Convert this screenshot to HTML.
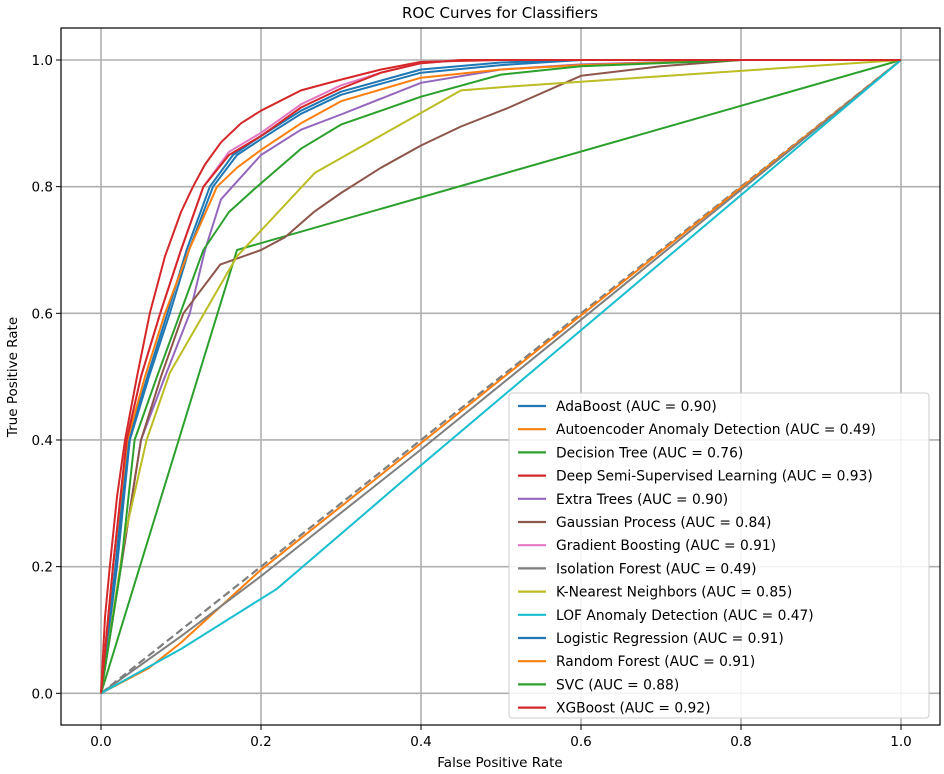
<!DOCTYPE html>
<html><head><meta charset="utf-8">
<style>
html,body{margin:0;padding:0;background:#fff;}
svg{display:block;font-family:"DejaVu Sans","Liberation Sans",sans-serif;}
</style></head>
<body>
<svg id="chart" width="944" height="774" viewBox="0 0 944 774"></svg>
<script>
const xTicks = [0, 0.2, 0.4, 0.6, 0.8, 1.0];
const yTicks = [0, 0.2, 0.4, 0.6, 0.8, 1.0];
const tickLabels = ["0.0","0.2","0.4","0.6","0.8","1.0"];
const seriesNames = ["AdaBoost (AUC = 0.90)","Autoencoder Anomaly Detection (AUC = 0.49)","Decision Tree (AUC = 0.76)","Deep Semi-Supervised Learning (AUC = 0.93)","Extra Trees (AUC = 0.90)","Gaussian Process (AUC = 0.84)","Gradient Boosting (AUC = 0.91)","Isolation Forest (AUC = 0.49)","K-Nearest Neighbors (AUC = 0.85)","LOF Anomaly Detection (AUC = 0.47)","Logistic Regression (AUC = 0.91)","Random Forest (AUC = 0.91)","SVC (AUC = 0.88)","XGBoost (AUC = 0.92)"];
const seriesColors = ["#1f77b4","#ff7f0e","#2ca02c","#d62728","#9467bd","#8c564b","#e377c2","#7f7f7f","#bcbd22","#17becf","#1f77b4","#ff7f0e","#2ca02c","#d62728"];
const adaBoost = [[0,0],[0.02,0.2],[0.036,0.4],[0.06,0.5],[0.086,0.6],[0.11,0.7],[0.14,0.8],[0.17,0.85],[0.2,0.875],[0.25,0.915],[0.3,0.945],[0.4,0.98],[0.5,0.992],[0.6,1],[1,1]];
const autoencoder = [[0,0],[0.06,0.04],[0.1,0.08],[0.2,0.195],[0.4,0.395],[1,1]];
const decisionTree = [[0,0],[0.17,0.70],[1,1]];
const deepSemi = [[0,0],[0.005,0.12],[0.011,0.2],[0.02,0.31],[0.03,0.4],[0.045,0.5],[0.061,0.6],[0.08,0.69],[0.1,0.76],[0.115,0.8],[0.13,0.835],[0.15,0.87],[0.175,0.9],[0.2,0.92],[0.25,0.952],[0.3,0.969],[0.35,0.985],[0.4,0.997],[0.5,1],[1,1]];
const extraTrees = [[0,0],[0.025,0.2],[0.05,0.4],[0.08,0.5],[0.111,0.6],[0.13,0.7],[0.15,0.78],[0.2,0.85],[0.25,0.89],[0.3,0.914],[0.4,0.964],[0.5,0.985],[0.6,0.993],[0.8,1],[1,1]];
const gaussian = [[0,0],[0.025,0.2],[0.05,0.4],[0.075,0.5],[0.103,0.6],[0.149,0.677],[0.2,0.70],[0.23,0.72],[0.267,0.761],[0.3,0.79],[0.35,0.83],[0.4,0.865],[0.45,0.895],[0.51,0.925],[0.6,0.975],[0.7,0.99],[0.8,1],[1,1]];
const gradient = [[0,0],[0.015,0.2],[0.032,0.4],[0.05,0.5],[0.074,0.6],[0.1,0.7],[0.128,0.8],[0.16,0.855],[0.2,0.885],[0.25,0.93],[0.3,0.96],[0.35,0.98],[0.4,0.995],[0.45,1],[1,1]];
const isolation = [[0,0],[0.1,0.09],[0.2,0.185],[0.4,0.385],[1,1]];
const knn = [[0,0],[0.03,0.25],[0.057,0.4],[0.086,0.506],[0.17,0.69],[0.2675,0.822],[0.45,0.952],[0.51,0.958],[1,1]];
const lof = [[0,0],[0.1,0.07],[0.22,0.165],[0.4,0.36],[1,1]];
const logistic = [[0,0],[0.018,0.2],[0.034,0.4],[0.058,0.5],[0.083,0.6],[0.107,0.7],[0.136,0.8],[0.165,0.85],[0.2,0.88],[0.25,0.92],[0.3,0.95],[0.4,0.985],[0.5,0.996],[0.6,1],[1,1]];
const randomForest = [[0,0],[0.015,0.2],[0.033,0.4],[0.055,0.5],[0.08,0.6],[0.11,0.7],[0.145,0.8],[0.17,0.83],[0.2,0.858],[0.25,0.9],[0.3,0.935],[0.4,0.972],[0.5,0.985],[0.6,0.992],[0.8,1],[1,1]];
const svc = [[0,0],[0.025,0.2],[0.042,0.4],[0.07,0.5],[0.099,0.6],[0.128,0.7],[0.16,0.76],[0.195,0.8],[0.25,0.86],[0.3,0.898],[0.4,0.942],[0.5,0.977],[0.6,0.99],[0.8,1],[1,1]];
const xgboost = [[0,0],[0.015,0.2],[0.032,0.4],[0.05,0.5],[0.074,0.6],[0.1,0.7],[0.128,0.8],[0.16,0.85],[0.2,0.88],[0.25,0.925],[0.3,0.955],[0.35,0.98],[0.4,0.995],[0.45,1],[1,1]];
const allSeries = [adaBoost,autoencoder,decisionTree,deepSemi,extraTrees,gaussian,gradient,isolation,knn,lof,logistic,randomForest,svc,xgboost];

const NS="http://www.w3.org/2000/svg";
const svg=document.getElementById('chart');
const L=61,R=940,T=28,B=725;
const X0=101,X1=901,Y0=693.3,Y1=60;
const sx=v=>X0+(X1-X0)*v;
const sy=v=>Y0-(Y0-Y1)*v;
function mk(tag,attrs,parent){const e=document.createElementNS(NS,tag);for(const k in attrs)e.setAttribute(k,attrs[k]);(parent||svg).appendChild(e);return e;}

xTicks.forEach((t,i)=>{
  const g=mk('line',{x1:sx(t),x2:sx(t),y1:T,y2:B,stroke:'#b0b0b0','stroke-width':1.6});
  
  
  const tk=mk('line',{x1:sx(t),x2:sx(t),y1:B,y2:B+5,stroke:'#000','stroke-width':1});
  
  
  const tx=mk('text',{x:sx(t),y:B+21,'text-anchor':'middle','font-size':13.5,fill:'#000'});
  tx.textContent=tickLabels[i];
  
  
});
yTicks.forEach((t,i)=>{
  const g=mk('line',{x1:L,x2:R,y1:sy(t),y2:sy(t),stroke:'#b0b0b0','stroke-width':1.6});
  
  
  const tk=mk('line',{x1:L-5,x2:L,y1:sy(t),y2:sy(t),stroke:'#000','stroke-width':1});
  
  
  const tx=mk('text',{x:L-8,y:sy(t)+5,'text-anchor':'end','font-size':13.5,fill:'#000'});
  tx.textContent=tickLabels[i];
  
  
});

const diag=mk('line',{x1:sx(0),y1:sy(0),x2:sx(1),y2:sy(1),stroke:'#7f7f7f','stroke-width':2.2,'stroke-dasharray':'8,4'});



allSeries.forEach((s,i)=>{
  const p=mk('polyline',{points:s.map(d=>sx(d[0]).toFixed(1)+','+sy(d[1]).toFixed(1)).join(' '),fill:'none',stroke:seriesColors[i],'stroke-width':2,'stroke-linejoin':'round'});
  
  
});

const fr=mk('rect',{x:L,y:T,width:R-L,height:B-T,fill:'none',stroke:'#000','stroke-width':1.2});



const lg=mk('g',{});


mk('rect',{x:509,y:393,width:420,height:325,rx:3,fill:'#fff','fill-opacity':0.85,stroke:'#cccccc','stroke-width':1},lg);
seriesNames.forEach((n,i)=>{
  const y=406+i*23.2;
  const e=mk('g',{},lg);
  
  
  mk('line',{x1:518,x2:546,y1:y,y2:y,stroke:seriesColors[i],'stroke-width':2.2},e);
  const t=mk('text',{x:556,y:y+5,'font-size':13.8,fill:'#000'},e);
  t.textContent=n;
});

const title=mk('text',{x:500,y:18,'text-anchor':'middle','font-size':15,fill:'#000'});
title.textContent='ROC Curves for Classifiers';


const xl=mk('text',{x:500,y:767,'text-anchor':'middle','font-size':13.5,fill:'#000'});
xl.textContent='False Positive Rate';


const yl=mk('text',{x:0,y:0,'text-anchor':'middle','font-size':13.5,fill:'#000',transform:'translate(17,377) rotate(-90)'});
yl.textContent='True Positive Rate';


</script>
</body></html>
